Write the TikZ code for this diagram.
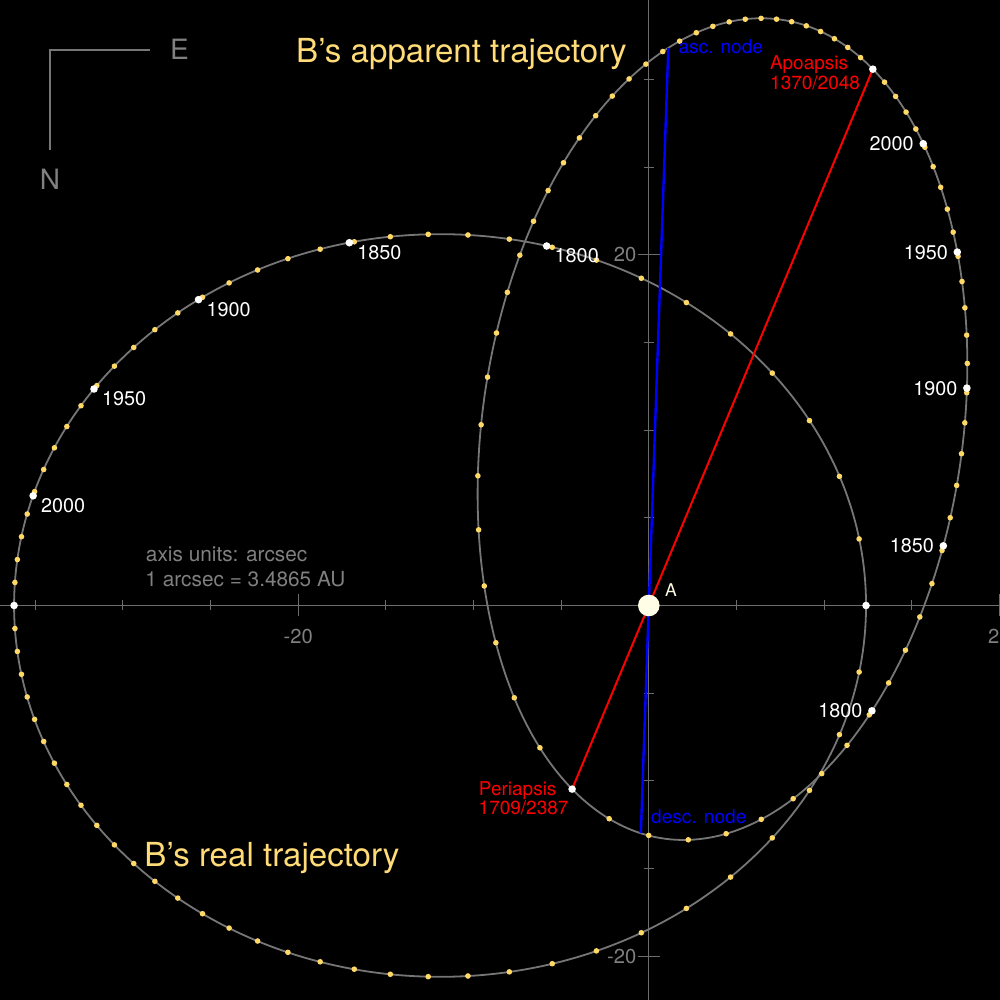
\documentclass[tikz,border=0pt]{standalone}
\usepackage{fontspec}
\setmainfont{TeX Gyre Heros}
\definecolor{axisc}{HTML}{6C6C6C}
\definecolor{orbitc}{HTML}{767676}
\definecolor{txtgray}{HTML}{808080}
\definecolor{dotyellow}{HTML}{FFD966}
\definecolor{titlec}{HTML}{FFDC78}
\definecolor{starc}{HTML}{FFFDE6}
\definecolor{apsred}{HTML}{FF0000}
\definecolor{nodeblue}{HTML}{0000FF}
\newcommand\orbcalc[1]{%
 \pgfmathsetmacro\orbM{#1}%
 \pgfmathsetmacro\orbE{\orbM+28.0749*sin(\orbM)}%
 \pgfmathsetmacro\orbE{\orbE-(\orbE-28.0749*sin(\orbE)-\orbM)/(1-0.49*cos(\orbE))}%
 \pgfmathsetmacro\orbE{\orbE-(\orbE-28.0749*sin(\orbE)-\orbM)/(1-0.49*cos(\orbE))}%
 \pgfmathsetmacro\orbE{\orbE-(\orbE-28.0749*sin(\orbE)-\orbM)/(1-0.49*cos(\orbE))}%
 \pgfmathsetmacro\orbE{\orbE-(\orbE-28.0749*sin(\orbE)-\orbM)/(1-0.49*cos(\orbE))}%
 \pgfmathsetmacro\orbE{\orbE-(\orbE-28.0749*sin(\orbE)-\orbM)/(1-0.49*cos(\orbE))}%
 \pgfmathsetmacro\orbRX{24.30*(cos(\orbE)-0.49)}%
 \pgfmathsetmacro\orbRY{21.182*sin(\orbE)}%
 \pgfmathsetmacro\orbAX{-0.353*(\orbRX)+0.5204*(\orbRY)}%
 \pgfmathsetmacro\orbAY{-0.845*(\orbRX)-0.533*(\orbRY)}%
}
\tikzset{
 axisline/.style={draw=axisc, line width=1.2pt},
 compassline/.style={draw=orbitc, line width=1.6pt},
 orbitline/.style={draw=orbitc, line width=1.8pt},
 ydot/.style={circle, fill=dotyellow, inner sep=0pt, minimum size=5.6pt},
 wdot/.style={circle, fill=white, inner sep=0pt, minimum size=7.6pt},
 yearlbl/.style={text=white, inner sep=0pt, font=\fontsize{19.8}{22}\selectfont},
 axlbl/.style={text=txtgray, inner sep=0pt, font=\fontsize{20.2}{24}\selectfont},
 graytxt/.style={text=txtgray, inner sep=0pt, anchor=base west, font=\fontsize{20.8}{24}\selectfont},
 compasslbl/.style={text=txtgray, inner sep=0pt, anchor=base, font=\fontsize{28}{32}\selectfont},
 titletxt/.style={text=titlec, inner sep=0pt, anchor=base west, font=\fontsize{33.1}{38}\selectfont},
 redtxt/.style={text=apsred, inner sep=0pt, anchor=base west, font=\fontsize{19}{22}\selectfont},
 bluetxt/.style={text=nodeblue, inner sep=0pt, anchor=base west, font=\fontsize{19.1}{22}\selectfont},
 apsline/.style={draw=apsred, line width=2pt},
 nodeline/.style={draw=nodeblue, line width=2.4pt},
 appmap/.style={cm={-0.353,-0.845,0.5204,-0.533,(0,0)}},
}
\begin{document}
\begin{tikzpicture}[x=17.53pt, y=17.53pt]
\useasboundingbox[fill=black] (-648.8pt,-394.5pt) rectangle (351.2pt,605.5pt);
% axes
\draw[axisline] (-648.8pt,0pt) -- (351.2pt,0pt);
\draw[axisline] (0pt,-394.5pt) -- (0pt,605.5pt);
\foreach \v in {-35,-30,-25,-15,-10,-5,5,10,15}{
  \draw[axisline] ([yshift=-5pt]\v,0) -- ([yshift=5pt]\v,0);
}
\foreach \v in {-20,20}{
  \draw[axisline] ([yshift=-11pt]\v,0) -- ([yshift=11pt]\v,0);
  \draw[axisline] ([xshift=-11pt]0,\v) -- ([xshift=11pt]0,\v);
}
\foreach \v in {-15,-10,-5,5,10,15,25,30}{
  \draw[axisline] ([xshift=-5pt]0,\v) -- ([xshift=5pt]0,\v);
}
\node[axlbl, anchor=base] (xm20) at ([yshift=-37.8pt]-20,0) {-20};
\node[axlbl, anchor=base] (xp20) at ([yshift=-37.8pt]20,0) {20};
\node[axlbl, anchor=base east] (yp20) at ([xshift=-12.3pt,yshift=-6.9pt]0,20) {20};
\node[axlbl, anchor=base east] (ym20) at ([xshift=-12.3pt,yshift=-7.6pt]0,-20) {-20};
% orbits
\draw[orbitline] (-11.907,0) ellipse [x radius=24.30, y radius=21.182];
\draw[orbitline, appmap] (-11.907,0) ellipse [x radius=24.30, y radius=21.182];
% apsides and nodes (apparent orbit)
\coordinate (aperi) at (-4.375,-10.472);
\coordinate (aapo) at (12.781,30.595);
\coordinate (asc) at (1.1136,31.810);
\coordinate (desc) at (-0.4548,-12.987);
\draw[apsline] (aperi) -- (aapo);
\draw[nodeline] (asc) -- (desc);
% time dots
\foreach \k in {0,...,67}{
  \pgfmathsetmacro\mm{\k*5.2941176}
  \orbcalc{\mm}
  \node[ydot] (ry\k) at (\orbRX,\orbRY) {};
  \node[ydot] (ay\k) at (\orbAX,\orbAY) {};
}
\foreach \yr in {1800,1850,1900,1950,2000}{
  \pgfmathsetmacro\mm{(\yr-1709)*0.5309735}
  \orbcalc{\mm}
  \node[wdot] (rw\yr) at (\orbRX,\orbRY) {};
  \node[wdot] (aw\yr) at (\orbAX,\orbAY) {};
  \node[yearlbl, anchor=base west, xshift=7.8pt, yshift=-16.9pt] (rl\yr) at (rw\yr) {\yr};
  \node[yearlbl, anchor=base east, xshift=-9.3pt, yshift=-7pt] (al\yr) at (aw\yr) {\yr};
}
\node[wdot] (rperi) at (12.393,0) {};
\node[wdot] (rapo) at (-36.207,0) {};
\node[wdot] (aperidot) at (aperi) {};
\node[wdot] (aapodot) at (aapo) {};
% central star
\node[circle, fill=starc, inner sep=0pt, minimum size=21.6pt] (A) at (0,0) {};
% texts placed in pixel coordinates
\begin{scope}[shift={(-648.8pt,605.5pt)}, x=1pt, y=-1pt]
  \draw[compassline] (150,50) -- (50,50) -- (50,150);
  \node[compasslbl] (E) at (179.5,59.5) {E};
  \node[compasslbl] (N) at (50,189.3) {N};
  \node[titletxt] (ttlapp) at (296,62.7) {B’s apparent trajectory};
  \node[titletxt] (ttlreal) at (144.3,866.7) {B’s real trajectory};
  \node[graytxt] (units1) at (145.8,561.7) {axis units: arcsec};
  \node[graytxt] (units2) at (145.3,586.7) {1 arcsec = 3.4865 AU};
  \node[redtxt] (apolbl) at (769.8,70) {Apoapsis};
  \node[redtxt] (apoyrs) at (770,89.3) {1370/2048};
  \node[redtxt] (perilbl) at (478.7,795) {Periapsis};
  \node[redtxt] (periyrs) at (478.5,814) {1709/2387};
  \node[bluetxt] (asclbl) at (678.3,53.3) {asc. node};
  \node[bluetxt] (desclbl) at (651,823.3) {desc. node};
  \node[text=starc, inner sep=0pt, anchor=base west, font=\fontsize{17.5}{20}\selectfont] (Albl) at (665,597) {A};
\end{scope}
\end{tikzpicture}
\end{document}
